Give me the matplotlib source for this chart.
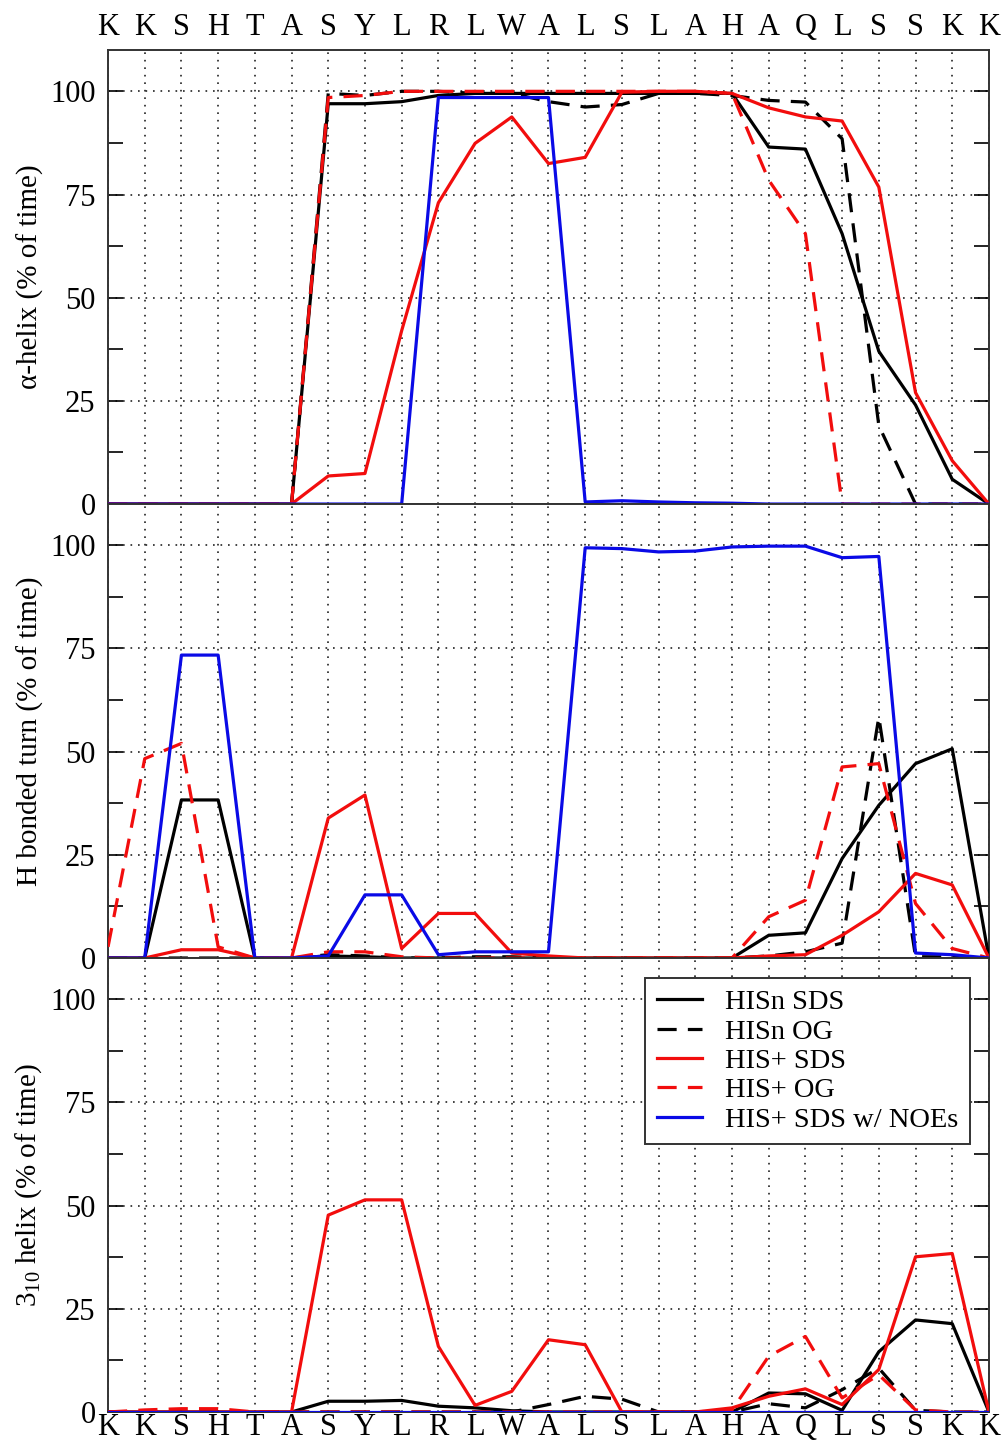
import numpy as np
import matplotlib
matplotlib.use("Agg")
import matplotlib.pyplot as plt
from matplotlib.ticker import MultipleLocator

plt.rcParams['font.family'] = ['Liberation Serif', 'DejaVu Serif']
plt.rcParams['mathtext.fontset'] = 'custom'
plt.rcParams['mathtext.rm'] = 'Liberation Serif'

residues = ['K', 'K', 'S', 'H', 'T', 'A', 'S', 'Y', 'L', 'R', 'L', 'W', 'A',
            'L', 'S', 'L', 'A', 'H', 'A', 'Q', 'L', 'S', 'S', 'K', 'K']

series_names = ['HISn SDS', 'HISn OG', 'HIS+ SDS', 'HIS+ OG', 'HIS+ SDS w/ NOEs']

# alpha helix (% of time)
helix_hisn_sds = [0, 0, 0, 0, 0, 0, 97, 97, 97.5, 99, 99.5, 99.5, 99.5, 99.5, 99.5,
                  99.5, 99.5, 99.5, 86.5, 86, 65.5, 37, 24, 6, 0]
helix_hisn_og = [0, 0, 0, 0, 0, 0, 99.5, 99, 100, 100, 99.5, 99.5, 97.5, 96.2, 96.8,
                 99.5, 99.5, 99, 97.8, 97.4, 88.5, 19, 0, 0, 0]
helix_hisp_sds = [0, 0, 0, 0, 0, 0, 6.8, 7.4, 42, 73, 87.4, 93.8, 82.5, 84, 99.8,
                  100, 100, 99.5, 96, 93.8, 92.8, 76.8, 27, 10.5, 0]
helix_hisp_og = [0, 0, 0, 0, 0, 0, 98.5, 99, 100, 100, 100, 100, 100, 100, 100,
                 100, 100, 99.5, 78.5, 65.5, 0, 0, 0, 0, 0]
helix_noe = [0, 0, 0, 0, 0, 0, 0, 0, 0, 98.5, 98.5, 98.5, 98.5, 0.5, 0.8,
             0.5, 0.3, 0.2, 0, 0, 0, 0, 0, 0, 0]

# H bonded turn (% of time)
turn_hisn_sds = [0, 0, 38.3, 38.3, 0, 0, 0.5, 0.3, 0, 0, 0, 0, 0, 0, 0,
                 0, 0, 0, 5.5, 6.1, 24.1, 37, 47.1, 50.7, 0]
turn_hisn_og = [0, 0, 0, 0, 0, 0, 0.8, 0.5, 0, 0, 0.3, 0.3, 0, 0, 0,
                0, 0, 0, 0.5, 1.5, 3.6, 58.4, 0.3, 0.3, 0]
turn_hisp_sds = [0, 0, 2, 2, 0, 0, 33.9, 39.5, 2.3, 10.8, 10.8, 1.2, 0.5, 0, 0,
                 0, 0, 0, 0.5, 0.8, 5.5, 11.2, 20.5, 17.7, 0]
turn_hisp_og = [2.7, 48.3, 52, 2.7, 0, 0, 1.5, 1.5, 0.3, 0, 0, 0, 0, 0, 0,
                0, 0, 0, 10, 14, 46.3, 47.1, 13.2, 2.3, 0]
turn_noe = [0, 0, 73.4, 73.4, 0, 0, 0.5, 15.3, 15.3, 0.8, 1.5, 1.5, 1.5, 99.4, 99.2,
            98.4, 98.6, 99.6, 99.8, 99.8, 97, 97.3, 1.2, 0.8, 0]

# 3-10 helix (% of time)
h310_hisn_sds = [0, 0, 0, 0, 0, 0, 2.6, 2.6, 2.8, 1.4, 1, 0.3, 0, 0, 0,
                 0, 0, 0, 4.6, 4.4, 0.4, 14.6, 22.3, 21.4, 0]
h310_hisn_og = [0, 0, 0, 0, 0, 0, 0, 0, 0, 0, 0, 0, 1.8, 3.8, 3.1,
                0, 0, 0, 2, 1, 5.4, 10.6, 0.4, 0, 0]
h310_hisp_sds = [0, 0, 0, 0, 0, 0, 47.7, 51.4, 51.4, 15.9, 1.6, 5, 17.5, 16.3, 0,
                 0, 0, 1, 3.8, 5.6, 1.8, 10.3, 37.6, 38.4, 0]
h310_hisp_og = [0, 0.5, 0.8, 0.8, 0, 0, 0, 0, 0, 0, 0, 0, 0, 0, 0,
                0, 0, 0.5, 13.5, 18.3, 3.4, 9, 0.5, 0, 0]
h310_noe = [0] * 25

panels = [
    ('α-helix (% of time)',
     [helix_hisn_sds, helix_hisn_og, helix_hisp_sds, helix_hisp_og, helix_noe]),
    ('H bonded turn (% of time)',
     [turn_hisn_sds, turn_hisn_og, turn_hisp_sds, turn_hisp_og, turn_noe]),
    (r'$\mathregular{3_{10}}$ helix (% of time)',
     [h310_hisn_sds, h310_hisn_og, h310_hisp_sds, h310_hisp_og, h310_noe]),
]

colors = ['black', 'black', '#f20d0d', '#f20d0d', '#0a0ae6']
dashed = [False, True, False, True, False]

fig, axes = plt.subplots(3, 1, figsize=(10.04, 14.47), dpi=100, sharex=True)
fig.subplots_adjust(left=0.1076, right=0.985, top=0.9654, bottom=0.0242, hspace=0)

x = np.arange(len(residues))
for ax, (ylabel, data) in zip(axes, panels):
    for name, vals, c, d in zip(series_names, data, colors, dashed):
        line, = ax.plot(x, vals, color=c, lw=2.3, label=name, zorder=3)
        if d:
            line.set_dashes((6, 3.5))
    ax.set_xlim(0, 24)
    ax.set_ylim(0, 110)
    ax.set_yticks([0, 25, 50, 75, 100])
    ax.yaxis.set_minor_locator(MultipleLocator(12.5))
    ax.set_xticks(x)
    ax.grid(True, which='major', color='#222222', linestyle=(0, (1, 3.5)), lw=1.2)
    ax.tick_params(axis='y', which='both', direction='in', right=True, length=11,
                   width=1.2, labelsize=22, pad=9)
    ax.tick_params(axis='x', length=0, labelsize=22, pad=6)
    ax.set_ylabel(ylabel, fontsize=21, labelpad=4)
    for s in ax.spines.values():
        s.set_linewidth(1.4)
        s.set_color('#333333')

axes[0].tick_params(axis='x', labeltop=True, labelbottom=False)
axes[0].set_xticklabels(residues)
axes[2].set_xticklabels(residues)
axes[2].tick_params(axis='x', pad=1)

leg = axes[2].legend(loc='upper right', bbox_to_anchor=(0.978, 0.956), fontsize=20.5,
                     frameon=True, fancybox=False, edgecolor='#333333',
                     handlelength=1.6, handletextpad=0.8, borderpad=0.4,
                     labelspacing=0.12, borderaxespad=0)
leg.get_frame().set_linewidth(1.4)
leg.get_frame().set_alpha(1)

fig.savefig('out.png', dpi=100)
